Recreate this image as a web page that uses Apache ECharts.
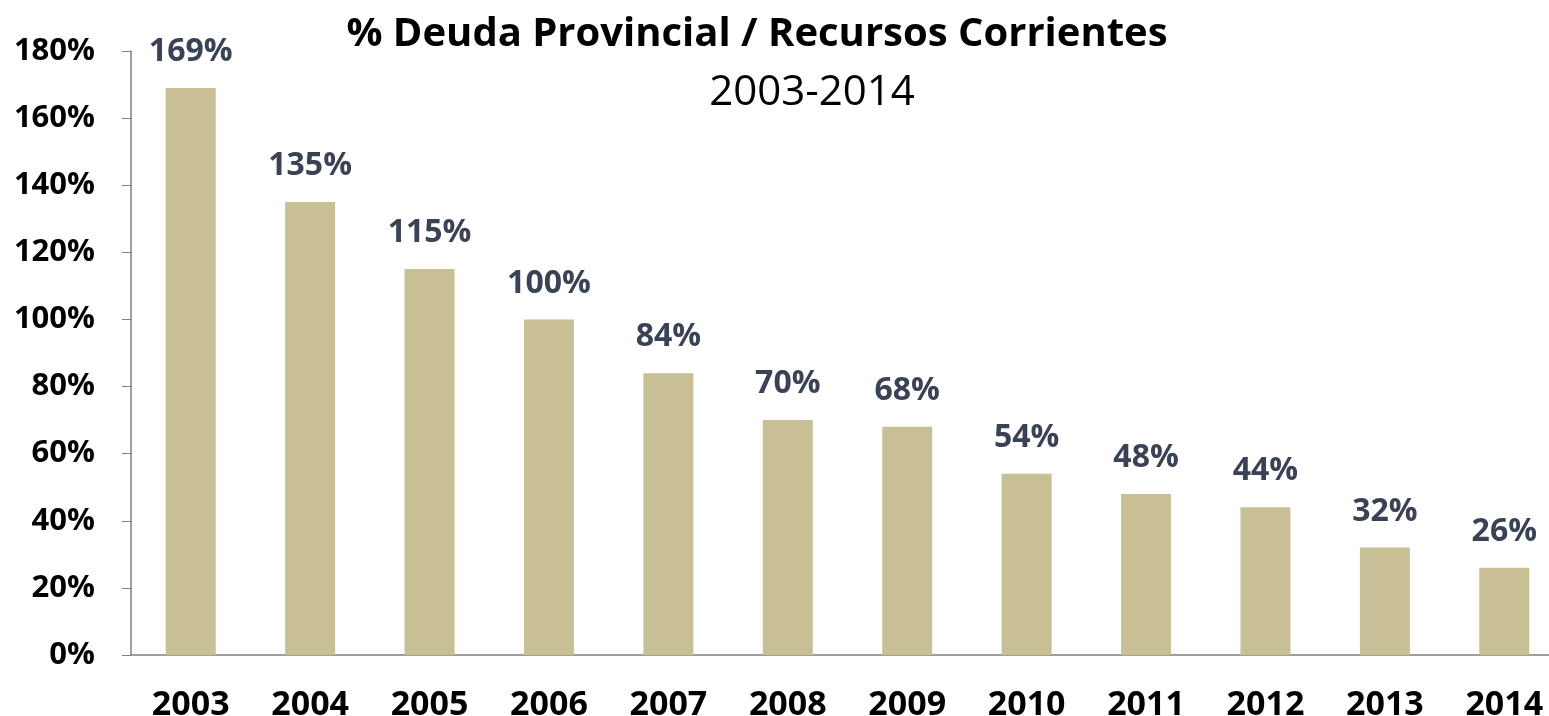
<!DOCTYPE html>
<html>
<head>
<meta charset="utf-8">
<script src="https://cdn.jsdelivr.net/npm/echarts@6/dist/echarts.min.js"></script>
<style>
  html, body { margin: 0; padding: 0; background: #fff; }
  #chart { width: 1549px; height: 716px; }
</style>
</head>
<body>
<div id="chart"></div>
<script>
// years and debt / current resources ratio (%)
const years = ['2003', '2004', '2005', '2006', '2007', '2008', '2009', '2010', '2011', '2012', '2013', '2014'];
const deuda = [169, 135, 115, 100, 84, 70, 68, 54, 48, 44, 32, 26];

const chart = echarts.init(document.getElementById('chart'));

const option = {
  backgroundColor: '#ffffff',
  animation: false,
  title: [
    {
      text: '% Deuda Provincial / Recursos Corrientes',
      left: 752,
      top: 10,
      textAlign: 'center',
      textStyle: { fontFamily: 'Open Sans', fontWeight: 'bold', fontSize: 40, color: '#000' }
    },
    {
      text: '2003-2014',
      left: 807,
      top: 67,
      textAlign: 'center',
      textStyle: { fontFamily: 'Open Sans', fontWeight: 'normal', fontSize: 42, color: '#000' }
    }
  ],
  grid: {
    left: 131,
    width: 1433,
    top: 51,
    bottom: 61,
    outerBoundsMode: 'none',
    containLabel: false
  },
  xAxis: {
    type: 'category',
    data: years,
    axisLine: { lineStyle: { color: '#7f7f7f', width: 1.5 } },
    axisTick: { show: false },
    axisLabel: {
      margin: 33,
      fontFamily: 'Open Sans',
      fontWeight: 'bold',
      fontSize: 34,
      color: '#000'
    }
  },
  yAxis: {
    type: 'value',
    min: 0,
    max: 180,
    interval: 20,
    splitLine: { show: false },
    axisLine: { show: true, lineStyle: { color: '#7f7f7f', width: 1.5 } },
    axisTick: { show: true, length: 9, lineStyle: { color: '#7f7f7f' } },
    axisLabel: {
      margin: 36,
      formatter: '{value}%',
      fontFamily: 'Open Sans',
      fontWeight: 'bold',
      fontSize: 31,
      color: '#000'
    }
  },
  series: [
    {
      type: 'bar',
      data: deuda,
      barWidth: 50,
      itemStyle: { color: '#c8bf94' },
      label: {
        show: true,
        position: 'top',
        distance: 20,
        formatter: '{c}%',
        fontFamily: 'Open Sans',
        fontWeight: 'bold',
        fontSize: 32,
        color: '#3a4256'
      }
    }
  ]
};

chart.setOption(option);
</script>
</body>
</html>
